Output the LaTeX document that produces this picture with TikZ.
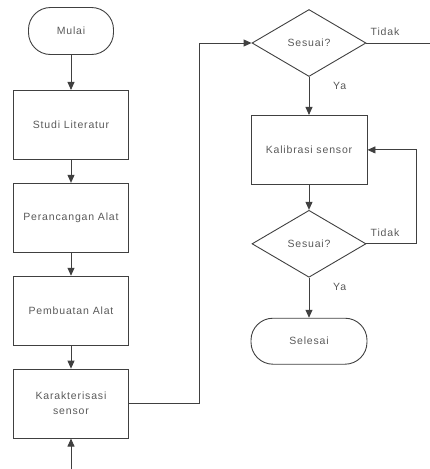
\documentclass[tikz,border=0pt]{standalone}
\usepackage{fontspec}
\setmainfont{Liberation Sans}[LetterSpace=8]
\usetikzlibrary{positioning, shapes.geometric, arrows.meta}

\tikzset{
  proc/.style={draw=black!75, line width=0.9pt, minimum width=115pt, minimum height=69pt,
    inner sep=2pt, align=center, text=black!65, font=\fontsize{10.5}{15}\selectfont},
  term/.style={proc, rounded corners=22pt, minimum height=47pt},
  cond/.style={proc, diamond, minimum width=114pt, minimum height=67pt, inner sep=0pt},
  lbl/.style={text=black!65, inner sep=0pt, font=\fontsize{10.5}{12}\selectfont},
  arr/.style={draw=black!75, line width=0.9pt, -{Triangle[width=7pt, length=8pt]}},
  ln/.style={draw=black!75, line width=0.9pt}
}

\begin{document}
\begin{tikzpicture}[x=1pt, y=1pt]
\useasboundingbox (0,0) rectangle (430,-469);
\clip (0,0) rectangle (430,-469);
\node[term, minimum width=85pt] (mulai) at (71,-31) {Mulai};
\node[proc, below=35pt of mulai] (studi) {Studi Literatur};
\node[proc, below=23pt of studi] (rancang) {Perancangan Alat};
\node[proc, below=23pt of rancang] (buat) {Pembuatan Alat};
\node[proc, below=23pt of buat] (karak) {Karakterisasi\\sensor};
\node[cond] (sesuai1) at (309,-43) {Sesuai?};
\node[proc, minimum width=116pt, below=38pt of sesuai1] (kalib) {Kalibrasi sensor};
\node[cond, below=25pt of kalib] (sesuai2) {Sesuai?};
\node[term, minimum width=116pt, minimum height=46pt, below=40pt of sesuai2] (selesai) {Selesai};
\coordinate (tr) at (450,-43);
\coordinate (bl) at ([yshift=-50pt]karak.south);
\draw[arr] (mulai) -- (studi);
\draw[arr] (studi) -- (rancang);
\draw[arr] (rancang) -- (buat);
\draw[arr] (buat) -- (karak);
\draw[arr] (karak.east) -| ([xshift=-52pt]sesuai1.west) -- (sesuai1.west);
\draw[arr] (sesuai1) -- (kalib);
\draw[arr] (kalib) -- (sesuai2);
\draw[arr] (sesuai2) -- (selesai);
\draw[arr] (sesuai2.east) -- ++(50,0) |- (kalib.east);
\draw[arr] (sesuai1.east) -- (tr) |- (bl) -- (karak.south);
\node[lbl, above right=7pt and 4pt of sesuai1.east] {Tidak};
\node[lbl, above right=7pt and 4pt of sesuai2.east] {Tidak};
\node[lbl, below right=5pt and 24pt of sesuai1.south] {Ya};
\node[lbl, below right=5pt and 24pt of sesuai2.south] {Ya};
\end{tikzpicture}
\end{document}
